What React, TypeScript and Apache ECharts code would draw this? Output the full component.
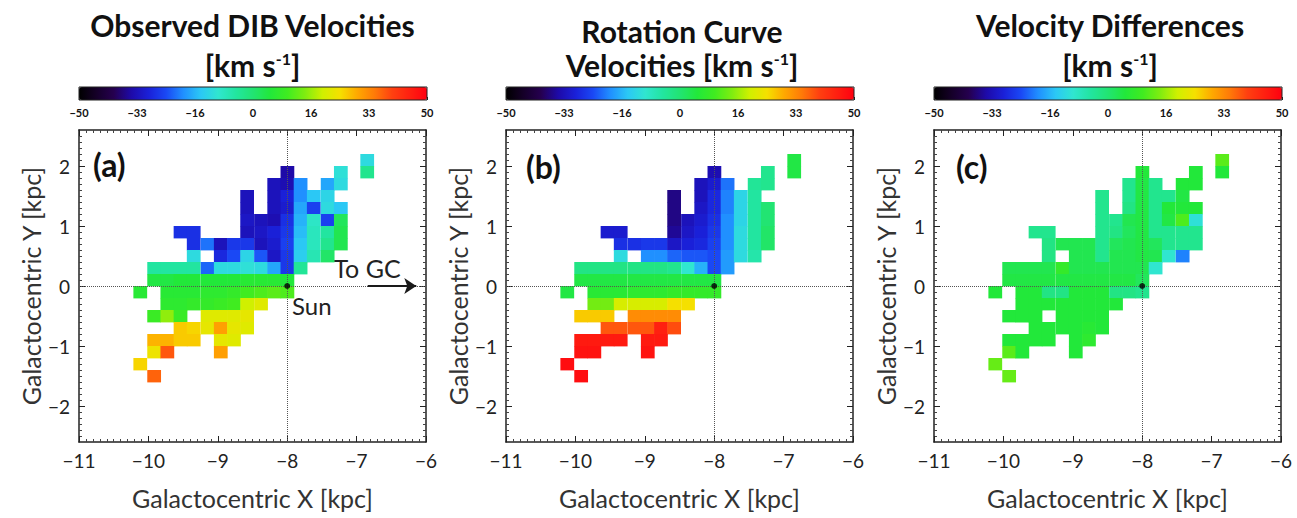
import React, { useEffect, useRef } from 'react';
import * as echarts from 'echarts';

const _ = null;

// Column centres (Galactocentric X, kpc), left to right
const xCenters = [-10.12, -9.92, -9.73, -9.54, -9.35, -9.15, -8.96, -8.77, -8.58, -8.38, -8.19, -8.0, -7.81, -7.62, -7.42, -7.23, -7.04, -6.85];
// Row centres (Galactocentric Y, kpc), top to bottom
const yCenters = [2.1, 1.9, 1.7, 1.5, 1.3, 1.1, 0.9, 0.7, 0.5, 0.3, 0.1, -0.1, -0.3, -0.5, -0.7, -0.9, -1.1, -1.3, -1.5];
const cellWidth = 0.1925;
const cellHeight = 0.2;

// (a) Observed DIB velocities [km/s]
const observedRows = [
  [_, _, _, _, _, _, _, _, _, _, _, _, _, _, _, _, _, -12],
  [_, _, _, _, _, _, _, _, _, _, _, -35, _, _, _, -11, _, -3],
  [_, _, _, _, _, _, _, _, _, _, -33, -34, -20, _, -18, -12, _, _],
  [_, _, _, _, _, _, _, _, -33, _, -33, -30, -20, -15, -13, _, _, _],
  [_, _, _, _, _, _, _, _, -33, _, -33, -31, -18, -26, -12, -15, _, _],
  [_, _, _, _, _, _, _, _, -32, -33, -34, -28, -17, -9, -26, 2, _, _],
  [_, _, _, -28, -28, _, _, _, -33, -32, -30, -27, -16, -8, -5, 3, _, _],
  [_, _, _, _, -28, -22, -33, -27, -27, -33, -31, -26, -15, -8, -3, 3, _, _],
  [_, _, _, _, -12, _, -29, -25, -13, -24, -32, -27, -14, -7, 1, _, _, _],
  [_, -5, -5, -5, -5, -23, -12, -12, -11, -12, -18, -27, -4, _, _, _, _, _],
  [_, 4, 4, 5, 5, 5, 5, 5, 6, 6, 6, 5, _, _, _, _, _, _],
  [6, _, 6, 6, 6, 7, 7, 8, 10, 11, 12, 11, _, _, _, _, _, _],
  [_, _, 7, 7, 8, 8, 9, 10, 20, 22, _, _, _, _, _, _, _, _],
  [_, 9, 16, 9, _, 22, 22, 22, 23, _, _, _, _, _, _, _, _, _],
  [_, _, _, 27, 26, 23, 31, 23, 22, _, _, _, _, _, _, _, _, _],
  [_, 29, 29, 27, 27, _, 23, 22, _, _, _, _, _, _, _, _, _, _],
  [_, 24, 38, _, _, _, 31, _, _, _, _, _, _, _, _, _, _, _],
  [26, _, _, _, _, _, _, _, _, _, _, _, _, _, _, _, _, _],
  [_, 37, _, _, _, _, _, _, _, _, _, _, _, _, _, _, _, _],
];

// (b) Rotation curve velocities [km/s]
const rotationRows = [
  [_, _, _, _, _, _, _, _, _, _, _, _, _, _, _, _, _, 4],
  [_, _, _, _, _, _, _, _, _, _, _, -34, _, _, _, -3, _, 4],
  [_, _, _, _, _, _, _, _, _, _, -33, -31, -22, _, -4, -3, _, _],
  [_, _, _, _, _, _, _, _, -37, _, -33, -29, -21, -13, -5, _, _, _],
  [_, _, _, _, _, _, _, _, -37, _, -32, -29, -21, -13, -5, 0, _, _],
  [_, _, _, _, _, _, _, _, -37, -33, -31, -28, -20, -13, -5, 0, _, _],
  [_, _, _, -31, -31, _, _, _, -36, -32, -30, -27, -20, -12, -5, 1, _, _],
  [_, _, _, _, -28, -28, -27, -27, -32, -30, -29, -26, -20, -12, -5, 1, _, _],
  [_, _, _, _, -12, _, -20, -20, -23, -24, -24, -25, -19, -12, -6, _, _, _],
  [_, -2, -2, -2, -2, -2, -2, -2, -3, -10, -17, -25, -19, _, _, _, _, _],
  [_, 4, 4, 4, 4, 4, 4, 4, 4, 4, 4, 4, _, _, _, _, _, _],
  [4, _, 6, 6, 6, 7, 7, 7, 8, 8, 8, 8, _, _, _, _, _, _],
  [_, _, 14, 14, 21, 21, 21, 21, 25, 25, _, _, _, _, _, _, _, _],
  [_, 27, 27, 27, _, 33, 33, 33, 33, _, _, _, _, _, _, _, _, _],
  [_, _, _, 38, 38, 38, 38, 45, 39, _, _, _, _, _, _, _, _, _],
  [_, 46, 46, 46, 46, _, 46, 46, _, _, _, _, _, _, _, _, _, _],
  [_, 47, 47, _, _, _, 47, _, _, _, _, _, _, _, _, _, _, _],
  [48, _, _, _, _, _, _, _, _, _, _, _, _, _, _, _, _, _],
  [_, 48, _, _, _, _, _, _, _, _, _, _, _, _, _, _, _, _],
];

// (c) Velocity differences [km/s]
const differenceRows = [
  [_, _, _, _, _, _, _, _, _, _, _, _, _, _, _, _, _, 12],
  [_, _, _, _, _, _, _, _, _, _, _, 5, _, _, _, 5, _, 5],
  [_, _, _, _, _, _, _, _, _, _, -3, 4, -3, _, 5, 5, _, _],
  [_, _, _, _, _, _, _, _, -3, _, -3, 4, -3, -3, 4, _, _, _],
  [_, _, _, _, _, _, _, _, -3, _, -2, 4, -3, 5, 5, 5, _, _],
  [_, _, _, _, _, _, _, _, -3, -3, 3, 4, -3, 4, 11, -11, _, _],
  [_, _, _, -3, -3, _, _, _, -3, -2, 2, 4, -3, -3, -3, -3, _, _],
  [_, _, _, _, -2, 3, 3, 3, -3, 2, 3, 4, 2, -3, -3, -3, _, _],
  [_, _, _, _, -2, _, 3, 3, -3, 3, 3, 4, 3, -10, -21, _, _, _],
  [_, 3, 3, 3, 3, 8, 3, 3, 3, 3, 3, 3, -10, _, _, _, _, _],
  [_, 4, 4, 4, 4, 4, 4, 4, 4, 4, 4, 2, _, _, _, _, _, _],
  [5, _, 5, 5, -2, -2, 5, 5, 5, -2, -2, -3, _, _, _, _, _, _],
  [_, _, 5, 5, 5, 5, 5, 5, 5, 5, _, _, _, _, _, _, _, _],
  [_, 5, 5, 5, _, 5, 5, 5, 5, _, _, _, _, _, _, _, _, _],
  [_, _, _, 5, 5, 5, 5, 6, 5, _, _, _, _, _, _, _, _, _],
  [_, 5, 5, 5, 5, _, 5, 7, _, _, _, _, _, _, _, _, _, _],
  [_, 12, 5, _, _, _, 5, _, _, _, _, _, _, _, _, _, _, _],
  [13, _, _, _, _, _, _, _, _, _, _, _, _, _, _, _, _, _],
  [_, 13, _, _, _, _, _, _, _, _, _, _, _, _, _, _, _, _],
];

const colorbarTicks = [-50, -33.33, -16.67, 0, 16.67, 33.33, 50];
const yTickValues = [-2, -1, 0, 1, 2];
const sunPos = [[-8, 0]];
const gcArrow = [[-6.84, 0], [-6.14, 0]];

const palette = [
  '#000000', '#150028', '#25004f', '#1e0aa8', '#1a20d8', '#1a48f5', '#2090ff',
  '#2bc8f5', '#30e6d0', '#22e5a0', '#22e472', '#22e83a', '#40ec20', '#80ec10',
  '#d0f000', '#f5e000', '#ffa800', '#ff7a08', '#ff4010', '#ff2010', '#ff0010',
];

const FONT = 'Lato, "Open Sans", sans-serif';
const TXT = '#222';

function toPoints(rows: (number | null)[][]) {
  const pts: number[][] = [];
  rows.forEach((row, r) => {
    row.forEach((v, c) => {
      if (v !== null && v !== undefined) pts.push([xCenters[c], yCenters[r], v]);
    });
  });
  return pts;
}

const fmtMinus = (v: number) => (v < 0 ? '\u2212' + Math.abs(v) : String(v));

function buildOption() {
  const panels = [observedRows, rotationRows, differenceRows];
  const lefts = [79, 506, 934];
  const plotW = 347;
  const grids: any[] = [];
  const xAxes: any[] = [];
  const yAxes: any[] = [];
  const series: any[] = [];
  const visualMaps: any[] = [];

  const axisLine = { show: true, onZero: false, lineStyle: { color: '#222', width: 1.5 } };
  const axisTick = { show: true, inside: true, length: 6, lineStyle: { color: '#222', width: 1 } };
  const minorTick = { show: true, splitNumber: 10, length: 3, lineStyle: { color: '#444', width: 1 } };

  lefts.forEach((l) => {
    grids.push({ left: l, top: 130, width: plotW, height: 312, outerBoundsMode: 'none', containLabel: false });
  });
  lefts.forEach((l) => {
    grids.push({
      left: l, top: 87, width: 348, height: 13, show: true, borderColor: '#222', borderWidth: 1,
      backgroundColor: 'transparent', z: 10, outerBoundsMode: 'none', containLabel: false,
    });
  });

  lefts.forEach((l, p) => {
    xAxes.push({
      gridIndex: p, type: 'value', min: -11, max: -6, interval: 1, position: 'bottom',
      name: 'Galactocentric X [kpc]', nameLocation: 'middle', nameGap: 43,
      nameTextStyle: { fontSize: 25, color: '#333', fontFamily: FONT },
      axisLine, axisTick, minorTick,
      axisLabel: { fontSize: 19, color: TXT, margin: 9, fontFamily: FONT, formatter: fmtMinus },
      splitLine: { show: false },
    });
    xAxes.push({
      gridIndex: p, type: 'value', min: -11, max: -6, interval: 1, position: 'top',
      axisLine, axisTick, minorTick, axisLabel: { show: false }, splitLine: { show: false },
    });
    yAxes.push({
      gridIndex: p, type: 'value', min: -2.6, max: 2.6, position: 'left',
      name: 'Galactocentric Y [kpc]', nameLocation: 'middle', nameGap: 36,
      nameTextStyle: { fontSize: 25, color: '#333', fontFamily: FONT },
      axisLine, minorTick,
      axisTick: { ...axisTick, customValues: yTickValues },
      axisLabel: { fontSize: 19, color: TXT, margin: 9, fontFamily: FONT, customValues: yTickValues, formatter: fmtMinus },
      splitLine: { show: false },
    });
    yAxes.push({
      gridIndex: p, type: 'value', min: -2.6, max: 2.6, position: 'right',
      axisLine, minorTick, axisTick: { ...axisTick, customValues: yTickValues },
      axisLabel: { show: false }, splitLine: { show: false },
    });
  });
  lefts.forEach((l, p) => {
    xAxes.push({
      gridIndex: 3 + p, type: 'value', min: -50, max: 50, position: 'bottom',
      axisLine: { show: false },
      axisTick: { show: true, inside: true, length: 3, customValues: colorbarTicks, lineStyle: { color: '#222' } },
      axisLabel: {
        customValues: colorbarTicks, fontSize: 11, fontWeight: 'bold', color: '#111', margin: 7, fontFamily: FONT,
        formatter: (v: number) => fmtMinus(Math.trunc(v)),
      },
      splitLine: { show: false },
    });
    yAxes.push({ gridIndex: 3 + p, type: 'value', show: false, min: 0, max: 1 });
  });

  panels.forEach((rows, p) => {
    series.push({
      type: 'custom', name: 'cells' + p, xAxisIndex: 2 * p, yAxisIndex: 2 * p,
      data: toPoints(rows), encode: { x: 0, y: 1 }, z: 2, silent: true,
      renderItem: (params: any, api: any) => {
        const x = api.value(0);
        const y = api.value(1);
        const p0 = api.coord([x - cellWidth / 2, y + cellHeight / 2]);
        const p1 = api.coord([x + cellWidth / 2, y - cellHeight / 2]);
        return {
          type: 'rect',
          shape: { x: p0[0], y: p0[1], width: p1[0] - p0[0] + 0.4, height: p1[1] - p0[1] + 0.4 },
          style: { fill: api.visual('color') },
        };
      },
    });
    series.push({
      type: 'scatter', name: 'sun' + p, xAxisIndex: 2 * p, yAxisIndex: 2 * p,
      data: sunPos, symbolSize: 6, itemStyle: { color: '#000' }, z: 5, silent: true,
      markLine: {
        silent: true, symbol: ['none', 'none'], label: { show: false },
        lineStyle: { type: 'dotted', color: '#555', width: 1 },
        data: [{ xAxis: -8 }, { yAxis: 0 }],
      },
    });
    visualMaps.push({
      type: 'continuous', min: -50, max: 50, dimension: 2, seriesIndex: 2 * p,
      orient: 'horizontal', left: lefts[p], top: 87, itemWidth: 13, itemHeight: 348,
      padding: 0, calculable: false, hoverLink: false, inRange: { color: palette },
    });
  });

  series.push({
    type: 'scatter', name: 'toGC', xAxisIndex: 0, yAxisIndex: 0, data: sunPos, symbolSize: 0, silent: true,
    markLine: {
      silent: true, symbol: ['none', 'arrow'], symbolSize: 12, label: { show: false },
      lineStyle: { type: 'solid', color: '#1a1a1a', width: 2 },
      data: [[{ coord: gcArrow[0] }, { coord: gcArrow[1] }]],
    },
  });

  const titleStyle = { fontSize: 30, fontWeight: 'bold', fontFamily: FONT, fill: '#111', align: 'center', verticalAlign: 'middle' };
  const sup = { sup: { fontSize: 16, fontWeight: 'bold', fontFamily: FONT, fill: '#111', verticalAlign: 'top' } };
  const letter = { fontSize: 32, fontWeight: 'bold', fontFamily: FONT, fill: '#111', align: 'left', verticalAlign: 'middle' };
  const graphic: any[] = [
    { type: 'text', x: 252.5, y: 25, style: { ...titleStyle, text: 'Observed DIB Velocities' } },
    { type: 'text', x: 252.5, y: 65, style: { ...titleStyle, text: '[km s{sup|-1}]', rich: sup } },
    { type: 'text', x: 682, y: 31, style: { ...titleStyle, text: 'Rotation Curve' } },
    { type: 'text', x: 682, y: 65, style: { ...titleStyle, text: 'Velocities [km s{sup|-1}]', rich: sup } },
    { type: 'text', x: 1110, y: 25, style: { ...titleStyle, text: 'Velocity Differences' } },
    { type: 'text', x: 1110, y: 65, style: { ...titleStyle, text: '[km s{sup|-1}]', rich: sup } },
    { type: 'text', x: 93, y: 164, style: { ...letter, text: '(a)' } },
    { type: 'text', x: 526, y: 166, style: { ...letter, text: '(b)' } },
    { type: 'text', x: 956, y: 166, style: { ...letter, text: '(c)' } },
    { type: 'text', x: 367, y: 268, style: { text: 'To GC', fontSize: 25, fontFamily: FONT, fill: '#222', align: 'center', verticalAlign: 'middle' } },
    { type: 'text', x: 292, y: 305, style: { text: 'Sun', fontSize: 24, fontFamily: FONT, fill: '#222', align: 'left', verticalAlign: 'middle' } },
  ];

  return {
    animation: false,
    backgroundColor: '#ffffff',
    textStyle: { fontFamily: FONT },
    grid: grids,
    xAxis: xAxes,
    yAxis: yAxes,
    visualMap: visualMaps,
    series,
    graphic,
  };
}

export default function App() {
  const ref = useRef<HTMLDivElement>(null);
  useEffect(() => {
    const chart = echarts.init(ref.current as HTMLDivElement, null, { renderer: 'svg' });
    chart.setOption(buildOption() as any);
    return () => chart.dispose();
  }, []);
  return (
    <div
      ref={ref}
      style={{ position: 'fixed', left: 0, top: 0, width: 1297, height: 518, background: '#fff' }}
    />
  );
}
